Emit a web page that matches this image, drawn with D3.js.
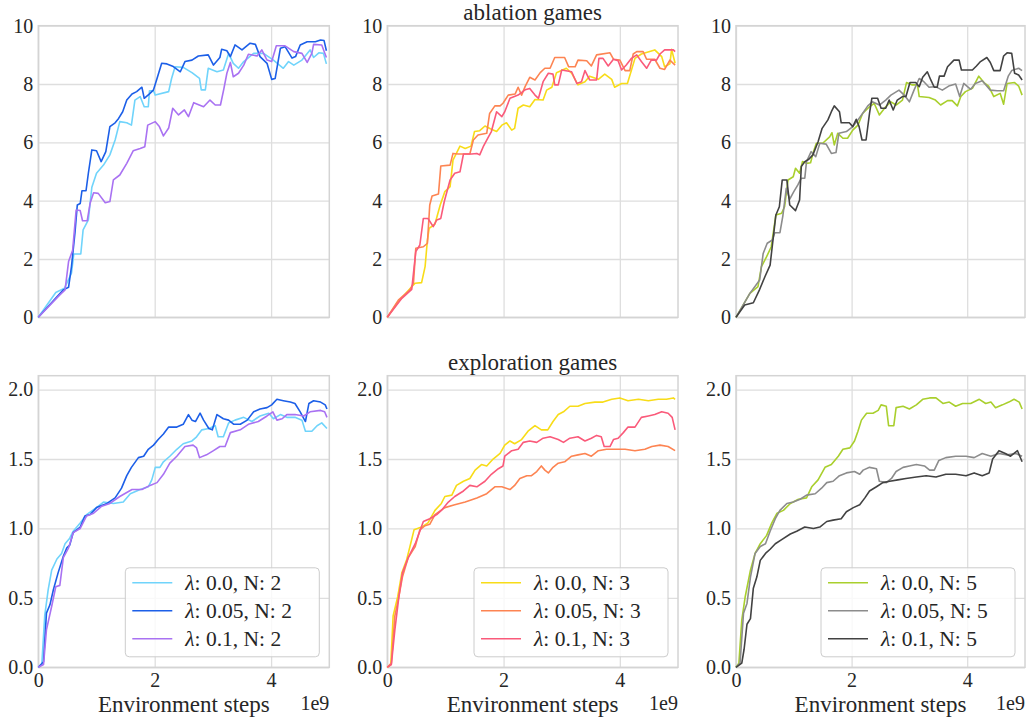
<!DOCTYPE html>
<html>
<head>
<meta charset="utf-8">
<script src="https://d3js.org/d3.v7.min.js"></script>
<style>
  body, html { margin: 0; background: #fff; }
  svg text { font-family: 'Liberation Serif', 'Times New Roman', serif; fill: #262626; }
</style>
</head>
<body>
<div id="chart"></div>
<script>
// x in units of 1e9 environment steps
var lambdas = ["0.0", "0.05", "0.1"];
var ns = [2, 3, 5];
var rowTitles = ["ablation games", "exploration games"];
var xTicks = [0, 2, 4];
var yTicksTop = [0, 2, 4, 6, 8, 10];
var yTicksBottom = [0, 0.5, 1.0, 1.5, 2.0];
var colColors = [
  ["#70d4fb", "#1c5fe8", "#a972f2"],
  ["#f8dc18", "#fd8452", "#fa5a7a"],
  ["#a9cf2d", "#8c8c8c", "#424242"]
];

// ablation games
var abl_n2_l00 = [[0,0],[.3,.85],[.45,1.0],[.57,1.51],[.61,2.17],[.73,2.17],[.77,3.0],[.86,3.34],[.92,4.46],[1.0,4.94],[1.12,5.22],[1.23,5.57],[1.32,6.08],[1.4,6.71],[1.52,6.67],[1.6,6.59],[1.66,7.45],[1.75,7.57],[1.82,7.22],[1.89,7.22],[1.91,7.77],[1.98,7.77],[2.01,7.62],[2.24,7.74],[2.29,8.19],[2.35,8.59],[2.49,8.57],[2.64,8.39],[2.77,8.19],[2.8,7.8],[2.87,7.8],[2.92,8.54],[3.07,8.42],[3.18,8.48],[3.27,9.05],[3.35,8.71],[3.44,8.54],[3.53,8.77],[3.7,9.05],[3.87,9.05],[4.04,8.82],[4.21,8.54],[4.3,8.77],[4.39,8.65],[4.53,8.82],[4.67,9.17],[4.73,8.91],[4.82,9.07],[4.9,9.05],[4.95,8.69]];
var abl_n2_l05 = [[0,0],[.43,.94],[.52,1.03],[.57,1.74],[.63,2.9],[.67,3.85],[.72,3.9],[.75,4.34],[.82,4.34],[.86,4.94],[.92,5.74],[1.0,5.71],[1.08,5.34],[1.16,5.68],[1.23,6.54],[1.32,6.67],[1.38,6.82],[1.45,7.05],[1.52,7.45],[1.61,7.66],[1.69,7.74],[1.78,7.89],[1.82,7.51],[1.91,7.66],[1.98,7.8],[2.04,8.19],[2.12,8.71],[2.21,8.69],[2.32,8.6],[2.44,8.42],[2.52,8.77],[2.64,8.82],[2.75,8.96],[2.92,9.0],[3.01,8.65],[3.12,8.91],[3.15,9.19],[3.24,9.14],[3.3,8.94],[3.38,9.34],[3.5,9.17],[3.64,9.4],[3.73,9.36],[3.81,8.94],[3.93,8.71],[4.01,8.16],[4.07,8.19],[4.16,9.23],[4.24,9.28],[4.36,8.89],[4.42,8.94],[4.5,9.34],[4.62,9.45],[4.76,9.45],[4.85,9.51],[4.91,9.49],[4.95,9.14]];
var abl_n2_l10 = [[0,0],[.37,.77],[.46,.94],[.52,1.91],[.59,2.3],[.65,3.68],[.72,3.66],[.76,3.31],[.84,3.31],[.89,3.91],[.95,4.27],[1.03,4.25],[1.15,3.93],[1.23,3.97],[1.29,4.71],[1.4,4.88],[1.52,5.28],[1.63,5.71],[1.75,5.79],[1.83,5.85],[1.88,6.59],[2.01,6.71],[2.08,6.54],[2.15,6.22],[2.24,6.49],[2.31,7.17],[2.41,6.94],[2.51,7.11],[2.58,6.88],[2.67,7.36],[2.84,7.22],[2.95,7.45],[3.04,7.28],[3.13,7.28],[3.19,7.85],[3.24,8.37],[3.3,8.74],[3.35,8.25],[3.44,8.37],[3.53,8.65],[3.61,9.02],[3.76,8.96],[3.84,9.17],[3.93,8.82],[4.01,8.77],[4.09,9.31],[4.24,9.31],[4.39,9.11],[4.53,9.05],[4.62,8.74],[4.7,9.05],[4.73,9.36],[4.87,9.34],[4.95,8.91]];

var abl_n3_l00 = [[0,0],[.19,.54],[.42,1.05],[.48,1.17],[.59,1.19],[.65,1.74],[.69,2.65],[.72,3.05],[.82,3.2],[.91,3.85],[.99,4.31],[1.08,4.48],[1.13,5.39],[1.25,5.87],[1.34,5.79],[1.44,5.87],[1.5,6.37],[1.59,6.4],[1.68,6.56],[1.79,6.45],[1.88,6.37],[1.97,6.59],[2.05,6.67],[2.14,6.42],[2.19,6.48],[2.25,7.17],[2.34,7.28],[2.45,7.22],[2.54,7.47],[2.68,7.45],[2.74,7.79],[2.83,7.89],[2.91,8.39],[3.08,8.54],[3.17,8.37],[3.28,7.97],[3.4,8.08],[3.48,8.27],[3.63,8.16],[3.74,8.34],[3.86,8.16],[3.91,7.89],[4.03,8.02],[4.13,8.02],[4.2,8.48],[4.26,8.88],[4.37,9.03],[4.6,9.17],[4.72,8.94],[4.77,8.59],[4.86,8.69],[4.89,9.19],[4.95,8.71]];
var abl_n3_l05 = [[0,0],[.19,.59],[.39,.94],[.45,1.17],[.49,2.37],[.62,2.42],[.69,2.54],[.73,3.85],[.77,4.16],[.88,4.23],[.92,5.19],[1.08,5.22],[1.13,5.62],[1.22,5.6],[1.42,5.6],[1.48,6.08],[1.56,6.25],[1.71,6.31],[1.76,6.99],[1.85,7.25],[1.94,7.25],[1.99,7.34],[2.08,7.62],[2.2,7.66],[2.25,7.89],[2.31,7.62],[2.37,7.91],[2.45,8.23],[2.54,8.14],[2.63,8.39],[2.71,8.54],[2.8,8.54],[2.88,8.91],[3.05,8.91],[3.12,8.59],[3.23,8.59],[3.28,8.82],[3.43,8.8],[3.51,8.62],[3.6,9.0],[3.83,9.07],[3.89,8.85],[4.0,8.82],[4.09,8.46],[4.17,8.46],[4.23,9.03],[4.29,9.11],[4.4,9.11],[4.46,8.85],[4.6,8.85],[4.69,8.54],[4.77,8.5],[4.86,8.82],[4.95,8.65]];
var abl_n3_l10 = [[0,0],[.25,.65],[.42,.96],[.49,2.25],[.56,2.48],[.62,3.39],[.7,3.39],[.79,3.11],[.85,3.34],[.92,3.39],[.98,3.97],[1.08,4.71],[1.16,4.94],[1.25,4.99],[1.31,5.6],[1.45,5.6],[1.54,5.62],[1.59,5.57],[1.65,5.85],[1.74,6.19],[1.79,6.37],[1.88,7.05],[1.97,6.88],[2.02,7.05],[2.11,7.51],[2.25,7.62],[2.37,7.8],[2.45,7.85],[2.54,7.62],[2.6,7.51],[2.68,8.08],[2.77,8.37],[2.85,8.34],[2.88,7.97],[2.94,7.97],[3.0,8.48],[3.17,8.42],[3.26,8.02],[3.34,8.08],[3.4,8.46],[3.48,8.14],[3.6,8.14],[3.64,8.88],[3.71,8.88],[3.8,8.62],[3.89,8.85],[3.97,8.8],[4.03,8.48],[4.11,8.65],[4.2,8.88],[4.29,9.0],[4.37,8.77],[4.46,8.54],[4.54,8.82],[4.63,8.82],[4.69,9.03],[4.77,9.17],[4.92,9.17],[4.95,9.11]];

var abl_n5_l00 = [[0,0],[.24,.82],[.38,1.05],[.44,1.74],[.53,2.08],[.61,2.42],[.69,3.51],[.79,3.57],[.84,3.79],[.9,4.71],[.99,4.82],[1.03,5.11],[1.1,4.94],[1.15,5.34],[1.22,5.28],[1.29,5.3],[1.34,5.68],[1.39,5.97],[1.5,5.97],[1.62,6.19],[1.66,6.33],[1.7,5.91],[1.76,6.31],[1.85,6.14],[1.93,6.14],[2.02,6.42],[2.11,6.59],[2.19,6.99],[2.31,7.22],[2.39,7.34],[2.48,6.94],[2.59,7.22],[2.68,7.39],[2.77,7.28],[2.88,7.45],[2.95,8.05],[3.05,7.97],[3.14,7.97],[3.17,7.57],[3.34,7.54],[3.45,7.45],[3.54,7.28],[3.66,7.43],[3.74,7.43],[3.83,7.25],[3.89,7.57],[3.97,7.74],[4.09,7.85],[4.2,8.27],[4.29,8.05],[4.37,7.93],[4.46,7.57],[4.57,7.68],[4.63,7.31],[4.69,8.02],[4.82,8.05],[4.89,7.93],[4.95,7.62]];
var abl_n5_l05 = [[0,0],[.24,.82],[.41,1.28],[.47,2.19],[.54,2.54],[.63,2.65],[.67,2.9],[.76,2.9],[.81,3.47],[.87,4.42],[.93,4.05],[1.0,4.31],[1.07,4.54],[1.13,4.77],[1.19,4.77],[1.22,5.34],[1.3,5.68],[1.38,5.51],[1.45,5.97],[1.56,5.94],[1.65,5.62],[1.73,5.65],[1.78,6.31],[1.91,6.37],[2.02,6.54],[2.11,6.77],[2.19,6.99],[2.28,7.25],[2.36,7.39],[2.48,7.28],[2.59,7.45],[2.68,7.62],[2.82,7.79],[2.91,7.62],[3.0,7.39],[3.08,7.79],[3.17,8.19],[3.25,8.08],[3.34,7.89],[3.45,7.91],[3.57,7.79],[3.68,7.93],[3.8,8.0],[3.87,7.57],[3.94,8.02],[4.06,7.82],[4.14,8.02],[4.26,8.11],[4.4,7.79],[4.52,7.77],[4.63,7.77],[4.71,8.27],[4.77,8.46],[4.89,8.54],[4.95,8.46]];
var abl_n5_l10 = [[0,0],[.15,.42],[.3,.5],[.41,.96],[.5,1.39],[.59,1.79],[.64,2.65],[.69,3.51],[.75,3.79],[.8,4.71],[.88,4.71],[.93,3.85],[1.03,3.66],[1.1,4.02],[1.13,5.17],[1.19,5.34],[1.26,5.42],[1.33,5.57],[1.42,6.02],[1.49,6.48],[1.59,6.77],[1.65,7.05],[1.7,7.25],[1.79,7.05],[1.82,6.67],[1.96,6.67],[2.02,6.54],[2.08,6.79],[2.13,6.54],[2.18,6.08],[2.25,6.08],[2.31,6.99],[2.35,7.51],[2.45,7.51],[2.51,7.17],[2.59,7.17],[2.65,7.45],[2.72,7.11],[2.79,7.45],[2.88,7.57],[2.94,7.57],[3.01,8.05],[3.11,8.05],[3.17,7.91],[3.23,8.23],[3.31,8.42],[3.37,8.14],[3.43,7.89],[3.48,7.89],[3.52,8.27],[3.6,8.27],[3.66,8.59],[3.77,8.82],[3.86,8.82],[3.9,8.48],[4.09,8.48],[4.16,8.62],[4.23,8.77],[4.34,8.91],[4.4,8.74],[4.46,8.46],[4.57,8.46],[4.63,8.96],[4.69,9.07],[4.77,9.05],[4.82,8.37],[4.89,8.31],[4.95,8.14]];

// exploration games
var exp_n2_l00 = [[0,0],[.06,.02],[.11,.37],[.17,.56],[.23,.7],[.32,.78],[.4,.82],[.46,.89],[.54,.93],[.6,.98],[.72,1.04],[.83,1.1],[1.0,1.15],[1.12,1.19],[1.29,1.18],[1.46,1.19],[1.58,1.25],[1.75,1.28],[1.89,1.3],[1.95,1.35],[2.01,1.44],[2.09,1.44],[2.15,1.48],[2.26,1.52],[2.38,1.57],[2.49,1.61],[2.64,1.63],[2.72,1.66],[2.81,1.71],[2.93,1.72],[3.04,1.74],[3.09,1.66],[3.18,1.66],[3.27,1.76],[3.38,1.78],[3.53,1.8],[3.67,1.77],[3.81,1.81],[3.96,1.83],[4.04,1.79],[4.16,1.82],[4.27,1.8],[4.41,1.8],[4.53,1.78],[4.59,1.7],[4.7,1.7],[4.79,1.74],[4.87,1.76],[4.96,1.72]];
var exp_n2_l05 = [[0,0],[.09,.04],[.14,.39],[.2,.45],[.26,.56],[.34,.68],[.43,.8],[.49,.86],[.54,.88],[.6,.97],[.72,1.01],[.8,1.09],[.89,1.1],[1.0,1.15],[1.18,1.18],[1.32,1.22],[1.43,1.29],[1.52,1.38],[1.6,1.44],[1.72,1.51],[1.81,1.52],[1.89,1.57],[1.98,1.6],[2.06,1.64],[2.15,1.68],[2.24,1.73],[2.38,1.73],[2.49,1.75],[2.58,1.82],[2.64,1.78],[2.7,1.77],[2.78,1.83],[2.84,1.78],[2.93,1.72],[2.99,1.71],[3.07,1.82],[3.18,1.79],[3.27,1.78],[3.36,1.75],[3.47,1.75],[3.59,1.78],[3.7,1.84],[3.81,1.86],[3.93,1.87],[4.01,1.89],[4.1,1.93],[4.21,1.92],[4.33,1.91],[4.41,1.9],[4.5,1.84],[4.59,1.77],[4.65,1.9],[4.73,1.92],[4.85,1.91],[4.93,1.89],[4.96,1.86]];
var exp_n2_l10 = [[0,0],[.09,.02],[.14,.27],[.23,.44],[.3,.58],[.37,.59],[.43,.79],[.52,.86],[.6,.97],[.72,1.0],[.83,1.09],[.95,1.11],[1.09,1.16],[1.23,1.18],[1.4,1.23],[1.61,1.28],[1.78,1.28],[1.92,1.31],[2.04,1.33],[2.15,1.39],[2.26,1.47],[2.38,1.52],[2.52,1.59],[2.66,1.6],[2.72,1.58],[2.77,1.51],[2.89,1.53],[3.01,1.56],[3.12,1.59],[3.21,1.59],[3.3,1.69],[3.47,1.71],[3.61,1.75],[3.78,1.77],[3.93,1.81],[4.03,1.84],[4.1,1.78],[4.19,1.79],[4.27,1.82],[4.41,1.82],[4.56,1.81],[4.67,1.84],[4.85,1.85],[4.92,1.84],[4.96,1.8]];

var exp_n3_l00 = [[0,0],[.06,.02],[.1,.37],[.18,.51],[.25,.68],[.33,.77],[.39,.87],[.46,.99],[.59,1.01],[.7,1.04],[.82,1.13],[.93,1.18],[.99,1.23],[1.11,1.24],[1.19,1.31],[1.31,1.34],[1.42,1.36],[1.51,1.42],[1.62,1.46],[1.71,1.45],[1.82,1.5],[1.94,1.54],[2.02,1.6],[2.11,1.63],[2.19,1.61],[2.31,1.64],[2.42,1.7],[2.54,1.74],[2.65,1.71],[2.76,1.71],[2.85,1.77],[2.94,1.82],[3.03,1.84],[3.14,1.88],[3.28,1.88],[3.4,1.9],[3.57,1.91],[3.71,1.91],[3.86,1.93],[4.0,1.94],[4.14,1.92],[4.32,1.93],[4.49,1.92],[4.66,1.93],[4.8,1.93],[4.92,1.94],[4.95,1.93]];
var exp_n3_l05 = [[0,0],[.07,.03],[.13,.37],[.19,.49],[.26,.65],[.36,.79],[.48,.87],[.56,.99],[.65,1.02],[.73,1.03],[.82,1.1],[.99,1.15],[1.16,1.17],[1.34,1.19],[1.54,1.22],[1.71,1.25],[1.85,1.3],[1.97,1.3],[2.11,1.28],[2.19,1.31],[2.28,1.36],[2.4,1.38],[2.48,1.38],[2.57,1.41],[2.65,1.45],[2.71,1.42],[2.77,1.4],[2.85,1.44],[2.94,1.47],[3.05,1.48],[3.17,1.52],[3.28,1.53],[3.4,1.54],[3.51,1.52],[3.63,1.56],[3.77,1.57],[3.91,1.57],[4.09,1.57],[4.26,1.56],[4.43,1.57],[4.55,1.59],[4.69,1.6],[4.83,1.59],[4.95,1.56]];
var exp_n3_l10 = [[0,0],[.07,.02],[.13,.27],[.2,.51],[.26,.68],[.36,.79],[.48,.89],[.56,.98],[.62,1.05],[.73,1.07],[.85,1.1],[.93,1.13],[1.05,1.19],[1.16,1.23],[1.31,1.27],[1.42,1.31],[1.54,1.3],[1.68,1.34],[1.79,1.39],[1.91,1.43],[1.99,1.45],[2.02,1.52],[2.14,1.56],[2.25,1.57],[2.34,1.62],[2.45,1.63],[2.57,1.62],[2.68,1.65],[2.8,1.66],[2.94,1.64],[3.03,1.62],[3.14,1.65],[3.28,1.66],[3.4,1.63],[3.51,1.65],[3.6,1.67],[3.68,1.66],[3.73,1.59],[3.83,1.59],[3.89,1.64],[3.97,1.65],[4.06,1.69],[4.14,1.73],[4.26,1.73],[4.37,1.8],[4.49,1.81],[4.6,1.82],[4.72,1.84],[4.83,1.83],[4.9,1.8],[4.95,1.71]];

var exp_n5_l00 = [[0,0],[.05,.03],[.1,.34],[.16,.51],[.25,.7],[.33,.82],[.42,.89],[.53,.95],[.62,1.04],[.71,1.11],[.82,1.13],[.94,1.18],[1.08,1.21],[1.22,1.22],[1.31,1.3],[1.42,1.35],[1.54,1.44],[1.65,1.46],[1.77,1.52],[1.85,1.57],[1.97,1.58],[2.05,1.63],[2.11,1.7],[2.17,1.78],[2.26,1.83],[2.37,1.83],[2.46,1.85],[2.51,1.89],[2.6,1.88],[2.64,1.74],[2.73,1.74],[2.77,1.87],[2.89,1.88],[3.0,1.86],[3.12,1.89],[3.23,1.93],[3.35,1.94],[3.46,1.94],[3.58,1.9],[3.69,1.91],[3.8,1.88],[3.92,1.9],[4.06,1.9],[4.21,1.93],[4.32,1.9],[4.41,1.91],[4.49,1.87],[4.61,1.89],[4.72,1.91],[4.81,1.93],[4.9,1.91],[4.95,1.86]];
var exp_n5_l05 = [[0,0],[.07,.03],[.13,.39],[.19,.46],[.25,.65],[.33,.82],[.42,.87],[.51,.89],[.59,.98],[.68,1.07],[.76,1.13],[.88,1.18],[.99,1.19],[1.11,1.21],[1.22,1.24],[1.37,1.25],[1.48,1.29],[1.57,1.33],[1.68,1.34],[1.79,1.38],[1.91,1.4],[2.05,1.41],[2.14,1.39],[2.2,1.42],[2.31,1.44],[2.43,1.43],[2.48,1.34],[2.6,1.33],[2.69,1.36],[2.77,1.41],[2.89,1.44],[3.0,1.45],[3.12,1.46],[3.26,1.45],[3.35,1.42],[3.43,1.42],[3.51,1.49],[3.63,1.51],[3.8,1.52],[3.98,1.52],[4.12,1.51],[4.26,1.54],[4.41,1.52],[4.55,1.54],[4.69,1.53],[4.84,1.54],[4.95,1.52]];
var exp_n5_l10 = [[0,0],[.1,.03],[.14,.13],[.19,.31],[.25,.35],[.3,.57],[.36,.65],[.42,.77],[.51,.82],[.59,.85],[.68,.89],[.79,.92],[.94,.96],[1.05,.98],[1.19,1.01],[1.34,1.0],[1.45,1.01],[1.57,1.05],[1.68,1.06],[1.82,1.07],[1.91,1.12],[2.03,1.15],[2.14,1.17],[2.23,1.22],[2.31,1.27],[2.43,1.3],[2.54,1.33],[2.66,1.34],[2.8,1.35],[2.94,1.36],[3.12,1.37],[3.29,1.38],[3.46,1.37],[3.63,1.39],[3.8,1.39],[3.98,1.38],[4.12,1.4],[4.26,1.38],[4.38,1.4],[4.44,1.5],[4.55,1.56],[4.66,1.54],[4.75,1.52],[4.87,1.56],[4.95,1.48]];

var panelSeries = [
  [[abl_n2_l00, abl_n2_l05, abl_n2_l10], [abl_n3_l00, abl_n3_l05, abl_n3_l10], [abl_n5_l00, abl_n5_l05, abl_n5_l10]],
  [[exp_n2_l00, exp_n2_l05, exp_n2_l10], [exp_n3_l00, exp_n3_l05, exp_n3_l10], [exp_n5_l00, exp_n5_l05, exp_n5_l10]]
];

var colX = [[38.3, 329.3], [387.3, 678], [736, 1025]];
var rowY = [[25.7, 317.3], [375.7, 667.3]];
var gridColor = "#dedede";

var svg = d3.select("#chart").append("svg")
  .attr("width", 1029)
  .attr("height", 717);

rowY.forEach(function (ry, r) {
  var y = d3.scaleLinear()
    .domain(r === 0 ? [0, 10] : [0, 2.1])
    .range([ry[1], ry[0]]);
  var yTicks = r === 0 ? yTicksTop : yTicksBottom;
  var yFmt = r === 0 ? d3.format("d") : d3.format(".1f");

  colX.forEach(function (cx, c) {
    var x = d3.scaleLinear().domain([0, 5]).range(cx);
    var g = svg.append("g");
    var w = cx[1] - cx[0], h = ry[1] - ry[0];

    // grid
    g.append("g")
      .attr("transform", "translate(0," + ry[1] + ")")
      .call(d3.axisBottom(x).tickValues(xTicks).tickSize(-h).tickFormat(""))
      .call(function (a) {
        a.select(".domain").remove();
        a.selectAll("line").attr("stroke", gridColor).attr("stroke-width", 1.3);
      });
    g.append("g")
      .attr("transform", "translate(" + cx[0] + ",0)")
      .call(d3.axisLeft(y).tickValues(yTicks).tickSize(-w).tickFormat(""))
      .call(function (a) {
        a.select(".domain").remove();
        a.selectAll("line").attr("stroke", gridColor).attr("stroke-width", 1.3);
      });

    // frame
    g.append("rect")
      .attr("x", cx[0]).attr("y", ry[0])
      .attr("width", w).attr("height", h)
      .attr("fill", "none")
      .attr("stroke", "#d4d4d4")
      .attr("stroke-width", 1.5);

    // y tick labels
    g.append("g")
      .attr("transform", "translate(" + cx[0] + ",0)")
      .call(d3.axisLeft(y).tickValues(yTicks).tickSize(0).tickPadding(5).tickFormat(yFmt))
      .call(function (a) {
        a.select(".domain").remove();
        a.selectAll("text").attr("font-size", 20).attr("fill", "#262626")
          .attr("font-family", "'Liberation Serif', serif");
      });

    // x tick labels only on bottom row
    if (r === 1) {
      g.append("g")
        .attr("transform", "translate(0," + ry[1] + ")")
        .call(d3.axisBottom(x).tickValues(xTicks).tickSize(0).tickPadding(6).tickFormat(d3.format("d")))
        .call(function (a) {
          a.select(".domain").remove();
          a.selectAll("text").attr("font-size", 20).attr("fill", "#262626")
            .attr("font-family", "'Liberation Serif', serif");
        });
      g.append("text")
        .attr("x", (cx[0] + cx[1]) / 2)
        .attr("y", 712)
        .attr("text-anchor", "middle")
        .attr("font-size", 23)
        .text("Environment steps");
      g.append("text")
        .attr("x", cx[1])
        .attr("y", 710)
        .attr("text-anchor", "end")
        .attr("font-size", 20)
        .text("1e9");
    }

    // row title over middle column
    if (c === 1) {
      g.append("text")
        .attr("x", (cx[0] + cx[1]) / 2)
        .attr("y", ry[0] - 6)
        .attr("text-anchor", "middle")
        .attr("font-size", 23)
        .text(rowTitles[r]);
    }

    // series
    var line = d3.line()
      .x(function (d) { return x(d[0]); })
      .y(function (d) { return y(d[1]); });
    panelSeries[r][c].forEach(function (s, i) {
      g.append("path")
        .datum(s)
        .attr("d", line)
        .attr("fill", "none")
        .attr("stroke", colColors[c][i])
        .attr("stroke-width", 1.6)
        .attr("stroke-linejoin", "round");
    });

    // legend on bottom row
    if (r === 1) {
      var lw = 194, lh = 89;
      var lx = cx[1] - 10 - lw, ly = ry[1] - 10.5 - lh;
      var lg = g.append("g").attr("transform", "translate(" + lx + "," + ly + ")");
      lg.append("rect")
        .attr("width", lw).attr("height", lh)
        .attr("rx", 4)
        .attr("fill", "rgba(255,255,255,0.8)")
        .attr("stroke", "#cccccc")
        .attr("stroke-width", 1);
      lambdas.forEach(function (lam, i) {
        var yy = 15 + i * 28;
        lg.append("line")
          .attr("x1", 7).attr("x2", 47)
          .attr("y1", yy).attr("y2", yy)
          .attr("stroke", colColors[c][i])
          .attr("stroke-width", 1.6);
        var t = lg.append("text")
          .attr("x", 60)
          .attr("y", yy + 7)
          .attr("font-size", 21.5);
        t.append("tspan").attr("font-style", "italic").text("λ");
        t.append("tspan").text(": " + lam + ", N: " + ns[c]);
      });
    }
  });
});
</script>
</body>
</html>
